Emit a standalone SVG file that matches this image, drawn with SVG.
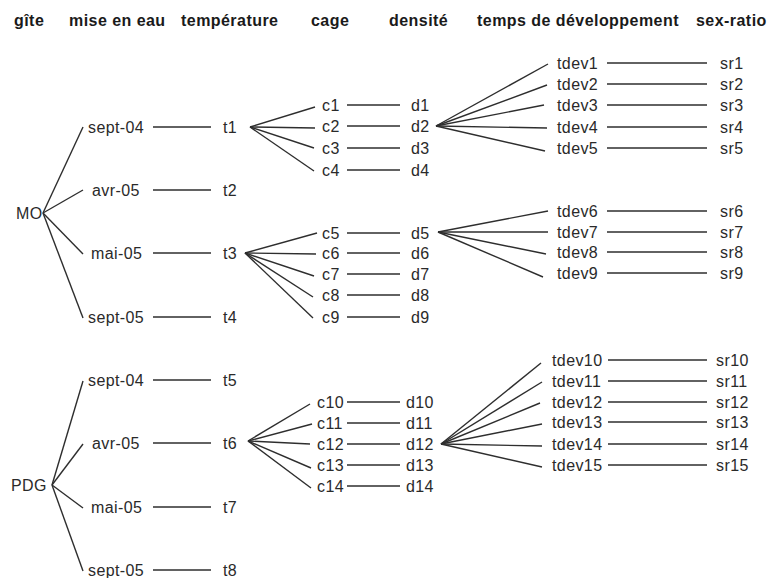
<svg xmlns="http://www.w3.org/2000/svg" width="767" height="578" viewBox="0 0 767 578">
<style>
text{font-family:"Liberation Sans",Arial,sans-serif;font-size:16px;letter-spacing:0.4px;fill:#2a2a2a;dominant-baseline:central}
.h{font-weight:bold;letter-spacing:0.45px;fill:#1a1a1a}
#connectors line{stroke:#2e2e2e;stroke-width:1.4}
</style>
<rect width="767" height="578" fill="#fff"/>
<g id="headers">
<text class="h" x="14" y="20">gîte</text>
<text class="h" x="69" y="20">mise en eau</text>
<text class="h" x="181" y="20">température</text>
<text class="h" x="311" y="20">cage</text>
<text class="h" x="389" y="20">densité</text>
<text class="h" x="477" y="20">temps de développement</text>
<text class="h" x="696" y="20">sex-ratio</text>
</g>
<g id="connectors">
<line x1="43" y1="213" x2="83" y2="127"/>
<line x1="43" y1="213" x2="83" y2="190"/>
<line x1="43" y1="213" x2="83" y2="254"/>
<line x1="43" y1="213" x2="83" y2="318"/>
<line x1="153" y1="127" x2="211" y2="127"/>
<line x1="153" y1="190" x2="211" y2="190"/>
<line x1="153" y1="253" x2="211" y2="253"/>
<line x1="153" y1="317" x2="211" y2="317"/>
<line x1="250" y1="127" x2="315" y2="107"/>
<line x1="250" y1="127" x2="315" y2="128"/>
<line x1="250" y1="127" x2="314" y2="148"/>
<line x1="250" y1="127" x2="314" y2="171"/>
<line x1="347" y1="105" x2="400" y2="105"/>
<line x1="347" y1="126" x2="400" y2="126"/>
<line x1="347" y1="148" x2="400" y2="148"/>
<line x1="347" y1="170" x2="400" y2="170"/>
<line x1="436" y1="126" x2="548" y2="64"/>
<line x1="436" y1="126" x2="547" y2="85"/>
<line x1="436" y1="126" x2="544" y2="105"/>
<line x1="436" y1="126" x2="547" y2="128"/>
<line x1="436" y1="126" x2="545" y2="151"/>
<line x1="607" y1="63" x2="707" y2="63"/>
<line x1="607" y1="84" x2="707" y2="84"/>
<line x1="607" y1="105" x2="707" y2="105"/>
<line x1="607" y1="127" x2="707" y2="127"/>
<line x1="607" y1="148" x2="707" y2="148"/>
<line x1="245" y1="253" x2="317" y2="233"/>
<line x1="245" y1="253" x2="316" y2="254"/>
<line x1="245" y1="253" x2="314" y2="276"/>
<line x1="245" y1="253" x2="313" y2="297"/>
<line x1="245" y1="253" x2="313" y2="318"/>
<line x1="347" y1="233" x2="400" y2="233"/>
<line x1="347" y1="253" x2="400" y2="253"/>
<line x1="347" y1="274" x2="400" y2="274"/>
<line x1="347" y1="295" x2="400" y2="295"/>
<line x1="347" y1="317" x2="400" y2="317"/>
<line x1="438" y1="232" x2="548" y2="211"/>
<line x1="438" y1="232" x2="548" y2="232"/>
<line x1="438" y1="232" x2="546" y2="254"/>
<line x1="438" y1="232" x2="543" y2="277"/>
<line x1="607" y1="211" x2="707" y2="211"/>
<line x1="607" y1="232" x2="707" y2="232"/>
<line x1="607" y1="252" x2="707" y2="252"/>
<line x1="607" y1="273" x2="707" y2="273"/>
<line x1="52" y1="485" x2="83" y2="381"/>
<line x1="52" y1="485" x2="83" y2="444"/>
<line x1="52" y1="485" x2="83" y2="508"/>
<line x1="52" y1="485" x2="83" y2="571"/>
<line x1="153" y1="380" x2="211" y2="380"/>
<line x1="153" y1="443" x2="211" y2="443"/>
<line x1="153" y1="507" x2="211" y2="507"/>
<line x1="153" y1="570" x2="211" y2="570"/>
<line x1="248" y1="441" x2="310" y2="404"/>
<line x1="248" y1="441" x2="312" y2="424"/>
<line x1="248" y1="441" x2="310" y2="444"/>
<line x1="248" y1="441" x2="311" y2="468"/>
<line x1="248" y1="441" x2="311" y2="488"/>
<line x1="347" y1="402" x2="400" y2="402"/>
<line x1="347" y1="423" x2="400" y2="423"/>
<line x1="347" y1="444" x2="400" y2="444"/>
<line x1="347" y1="465" x2="400" y2="465"/>
<line x1="347" y1="486" x2="400" y2="486"/>
<line x1="441" y1="444" x2="541" y2="363"/>
<line x1="441" y1="444" x2="542" y2="382"/>
<line x1="441" y1="444" x2="540" y2="403"/>
<line x1="441" y1="444" x2="542" y2="424"/>
<line x1="441" y1="444" x2="542" y2="446"/>
<line x1="441" y1="444" x2="542" y2="467"/>
<line x1="608" y1="360" x2="707" y2="360"/>
<line x1="608" y1="381" x2="707" y2="381"/>
<line x1="608" y1="402" x2="707" y2="402"/>
<line x1="608" y1="422" x2="707" y2="422"/>
<line x1="608" y1="444" x2="707" y2="444"/>
<line x1="608" y1="465" x2="707" y2="465"/>
</g>
<g id="MO"><text x="16" y="213">MO</text></g>
<g id="MO-sept-04"><text x="88" y="127">sept-04</text></g>
<g id="MO-avr-05"><text x="92" y="190">avr-05</text></g>
<g id="MO-mai-05"><text x="91" y="253">mai-05</text></g>
<g id="MO-sept-05"><text x="88" y="317">sept-05</text></g>
<g id="t1"><text x="223" y="127">t1</text></g>
<g id="t2"><text x="223" y="190">t2</text></g>
<g id="t3"><text x="223" y="253">t3</text></g>
<g id="t4"><text x="223" y="317">t4</text></g>
<g id="c1"><text x="322" y="105">c1</text></g>
<g id="c2"><text x="322" y="126">c2</text></g>
<g id="c3"><text x="322" y="148">c3</text></g>
<g id="c4"><text x="322" y="170">c4</text></g>
<g id="c5"><text x="322" y="233">c5</text></g>
<g id="c6"><text x="322" y="253">c6</text></g>
<g id="c7"><text x="322" y="274">c7</text></g>
<g id="c8"><text x="322" y="295">c8</text></g>
<g id="c9"><text x="322" y="317">c9</text></g>
<g id="d1"><text x="411" y="105">d1</text></g>
<g id="d2"><text x="411" y="126">d2</text></g>
<g id="d3"><text x="411" y="148">d3</text></g>
<g id="d4"><text x="411" y="170">d4</text></g>
<g id="d5"><text x="411" y="233">d5</text></g>
<g id="d6"><text x="411" y="253">d6</text></g>
<g id="d7"><text x="411" y="274">d7</text></g>
<g id="d8"><text x="411" y="295">d8</text></g>
<g id="d9"><text x="411" y="317">d9</text></g>
<g id="tdev1"><text x="557" y="63">tdev1</text></g>
<g id="tdev2"><text x="557" y="84">tdev2</text></g>
<g id="tdev3"><text x="557" y="105">tdev3</text></g>
<g id="tdev4"><text x="557" y="127">tdev4</text></g>
<g id="tdev5"><text x="557" y="148">tdev5</text></g>
<g id="tdev6"><text x="557" y="211">tdev6</text></g>
<g id="tdev7"><text x="557" y="232">tdev7</text></g>
<g id="tdev8"><text x="557" y="252">tdev8</text></g>
<g id="tdev9"><text x="557" y="273">tdev9</text></g>
<g id="sr1"><text x="720" y="63">sr1</text></g>
<g id="sr2"><text x="720" y="84">sr2</text></g>
<g id="sr3"><text x="720" y="105">sr3</text></g>
<g id="sr4"><text x="720" y="127">sr4</text></g>
<g id="sr5"><text x="720" y="148">sr5</text></g>
<g id="sr6"><text x="720" y="211">sr6</text></g>
<g id="sr7"><text x="720" y="232">sr7</text></g>
<g id="sr8"><text x="720" y="252">sr8</text></g>
<g id="sr9"><text x="720" y="273">sr9</text></g>
<g id="PDG"><text x="11" y="485">PDG</text></g>
<g id="PDG-sept-04"><text x="88" y="380">sept-04</text></g>
<g id="PDG-avr-05"><text x="92" y="443">avr-05</text></g>
<g id="PDG-mai-05"><text x="91" y="507">mai-05</text></g>
<g id="PDG-sept-05"><text x="88" y="570">sept-05</text></g>
<g id="t5"><text x="223" y="380">t5</text></g>
<g id="t6"><text x="223" y="443">t6</text></g>
<g id="t7"><text x="223" y="507">t7</text></g>
<g id="t8"><text x="223" y="570">t8</text></g>
<g id="c10"><text x="317" y="402">c10</text></g>
<g id="c11"><text x="317" y="423">c11</text></g>
<g id="c12"><text x="317" y="444">c12</text></g>
<g id="c13"><text x="317" y="465">c13</text></g>
<g id="c14"><text x="317" y="486">c14</text></g>
<g id="d10"><text x="406" y="402">d10</text></g>
<g id="d11"><text x="406" y="423">d11</text></g>
<g id="d12"><text x="406" y="444">d12</text></g>
<g id="d13"><text x="406" y="465">d13</text></g>
<g id="d14"><text x="406" y="486">d14</text></g>
<g id="tdev10"><text x="552" y="360">tdev10</text></g>
<g id="tdev11"><text x="552" y="381">tdev11</text></g>
<g id="tdev12"><text x="552" y="402">tdev12</text></g>
<g id="tdev13"><text x="552" y="422">tdev13</text></g>
<g id="tdev14"><text x="552" y="444">tdev14</text></g>
<g id="tdev15"><text x="552" y="465">tdev15</text></g>
<g id="sr10"><text x="716" y="360">sr10</text></g>
<g id="sr11"><text x="716" y="381">sr11</text></g>
<g id="sr12"><text x="716" y="402">sr12</text></g>
<g id="sr13"><text x="716" y="422">sr13</text></g>
<g id="sr14"><text x="716" y="444">sr14</text></g>
<g id="sr15"><text x="716" y="465">sr15</text></g>
</svg>
